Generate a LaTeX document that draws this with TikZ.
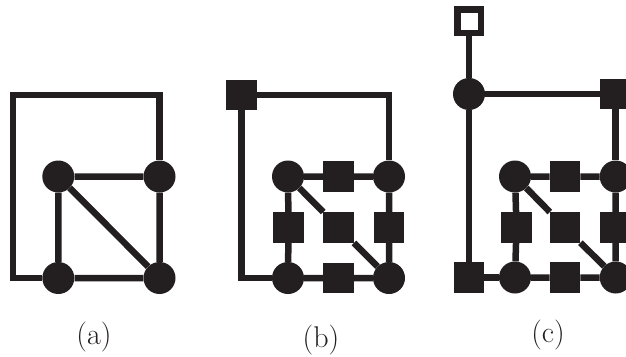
\documentclass[tikz,border=0pt]{standalone}
\usepackage{fontspec}
\usepackage{xcolor}
\usepackage{tikz}
\definecolor{ink}{HTML}{231F20}

\begin{document}
\begin{tikzpicture}[x=1pt, y=-1pt,
  dot/.style={circle, fill=ink, minimum size=32pt, inner sep=0pt},
  blk/.style={rectangle, fill=ink, minimum size=30.5pt, inner sep=0pt},
  hollow/.style={rectangle, draw=ink, fill=white, line width=6.5pt, minimum size=23.5pt, inner sep=0pt},
  wire/.style={draw=ink, line width=6.5pt},
  lbl/.style={anchor=base, text=ink, font=\fontsize{30}{36}\selectfont}]
\useasboundingbox (0,0) rectangle (626,356);
\clip (0,0) rectangle (626,356);

% (a)
\node[dot] (a-tl) at (58.3,176.5) {};
\node[dot] (a-tr) at (159.5,176.5) {};
\node[dot] (a-bl) at (58.3,278) {};
\node[dot] (a-br) at (159.5,278) {};
\coordinate (a-corner) at (13,95);
\draw[wire] (a-bl) -| (a-corner) -| (a-tr);
\draw[wire] (a-tl) -- (a-tr) (a-tl) -- (a-bl) (a-tl) -- (a-br)
            (a-bl) -- (a-br) (a-tr) -- (a-br);
\node[lbl] (a-cap) at (94,344) {(a)};

% (b)
\node[blk] (b-corner) at (241.7,95) {};
\node[dot] (b-tl) at (288,176.5) {};
\node[blk] (b-tm) at (338.5,176.5) {};
\node[dot] (b-tr) at (389,176.5) {};
\node[blk] (b-ml) at (288.5,227.5) {};
\node[blk] (b-mm) at (338.5,227.5) {};
\node[blk] (b-mr) at (389,227.5) {};
\node[dot] (b-bl) at (288,278) {};
\node[blk] (b-bm) at (338.5,278) {};
\node[dot] (b-br) at (389,278) {};
\draw[wire] (b-corner) -| (b-tr) (b-corner) |- (b-bl);
\draw[wire] (b-tl) -- (b-tm) -- (b-tr) (b-tl) -- (b-ml) -- (b-bl)
            (b-tr) -- (b-mr) -- (b-br) (b-bl) -- (b-bm) -- (b-br)
            (b-tl) -- (b-mm) -- (b-br);
\node[lbl] (b-cap) at (321,347) {(b)};

% (c)
\node[hollow] (c-top) at (469,21) {};
\node[dot] (c-hub) at (469,94) {};
\node[blk] (c-ne) at (615.7,94) {};
\node[blk] (c-sw) at (469,277.5) {};
\node[dot] (c-tl) at (515,176.5) {};
\node[blk] (c-tm) at (565,176.5) {};
\node[dot] (c-tr) at (615.7,176.5) {};
\node[blk] (c-ml) at (516.5,227.5) {};
\node[blk] (c-mm) at (565,227.5) {};
\node[blk] (c-mr) at (615.7,227.5) {};
\node[dot] (c-bl) at (515,277.5) {};
\node[blk] (c-bm) at (565,277.5) {};
\node[dot] (c-br) at (615.7,277.5) {};
\draw[wire] (c-top) -- (c-hub) -- (c-ne) -- (c-tr) (c-hub) -- (c-sw) -- (c-bl);
\draw[wire] (c-tl) -- (c-tm) -- (c-tr) (c-tl) -- (c-ml) -- (c-bl)
            (c-tr) -- (c-mr) -- (c-br) (c-bl) -- (c-bm) -- (c-br)
            (c-tl) -- (c-mm) -- (c-br);
\node[lbl] (c-cap) at (548,342) {(c)};
\end{tikzpicture}
\end{document}
